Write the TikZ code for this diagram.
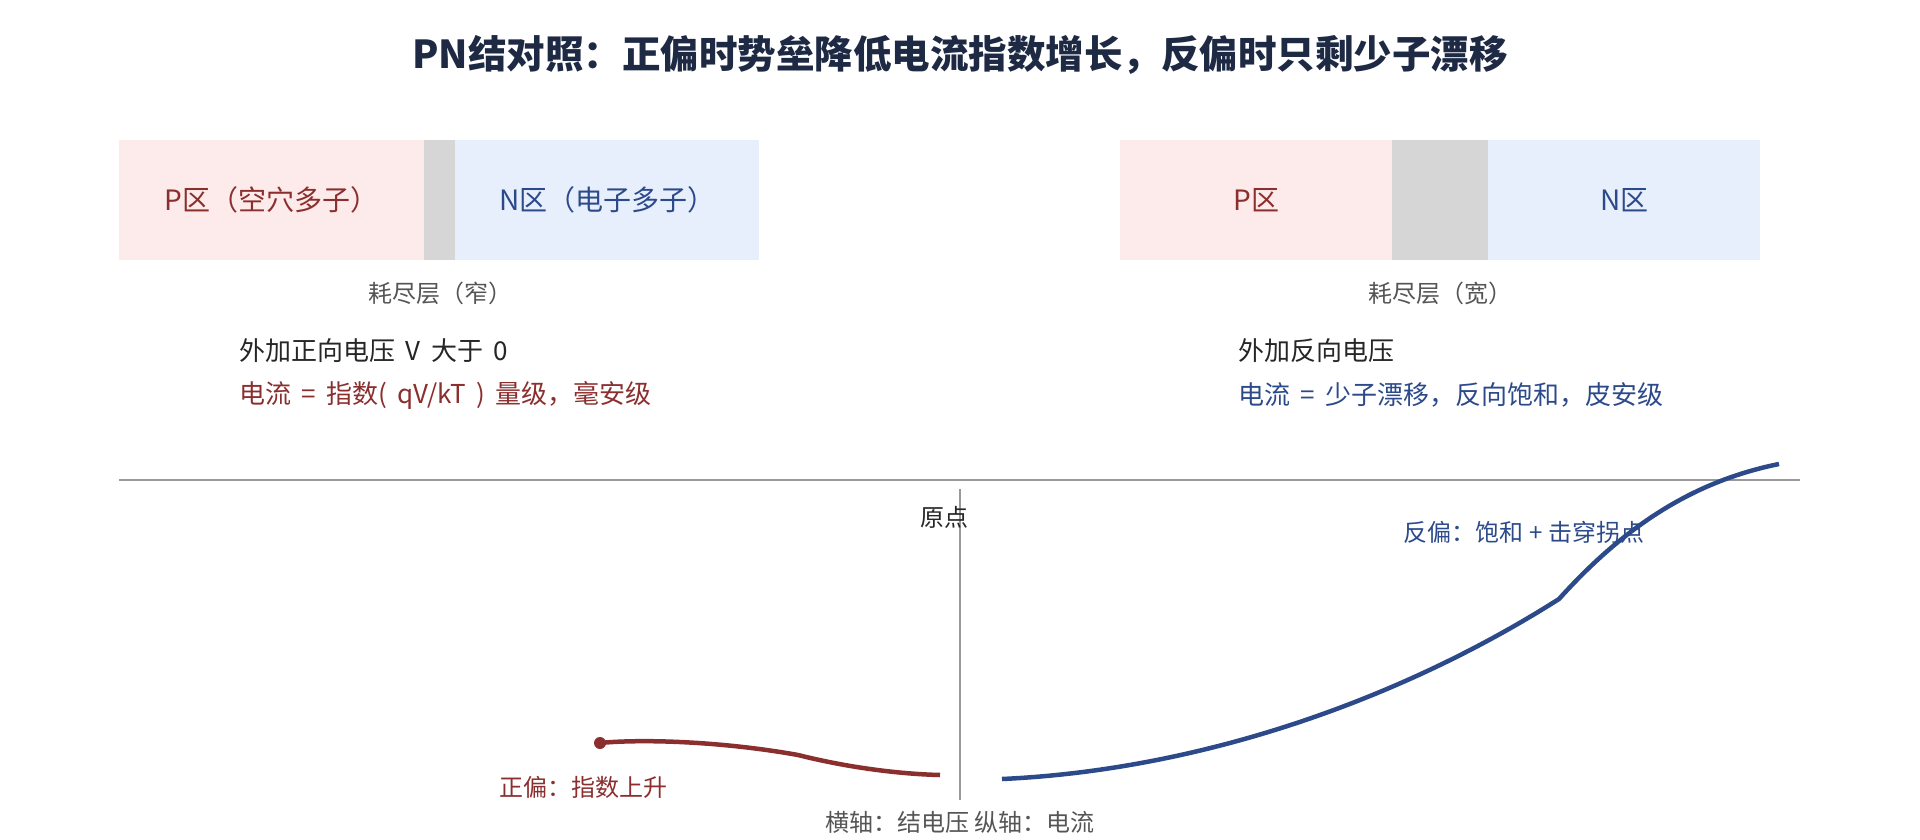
\documentclass[tikz,border=0pt]{standalone}
\usepackage{fontspec}
\setmainfont{Noto Sans CJK SC}
\definecolor{pred}{HTML}{8B2E2E}
\definecolor{nblue}{HTML}{2C4A8A}
\definecolor{pfill}{HTML}{FCEBEA}
\definecolor{nfill}{HTML}{E8EFFC}
\definecolor{deplc}{HTML}{D6D6D6}
\definecolor{titlec}{HTML}{1E2A44}
\definecolor{axisc}{HTML}{999999}
\definecolor{notec}{HTML}{555555}
\newcommand\midfont{\fontsize{26}{30}\selectfont\spaceskip=0.4em\relax}
\begin{document}
\begin{tikzpicture}[x=1pt,y=-1pt,
    region/.style={inner sep=0pt,minimum height=120pt,anchor=north west,
      font=\fontsize{28}{32}\selectfont},
    small/.style={font=\fontsize{24}{28}\selectfont},
    mid/.style={font=\midfont,anchor=west},
    axis/.style={draw=axisc,line width=1.5pt},
    curve/.style={line width=4.5pt}]
  \useasboundingbox (0,0) rectangle (1920,840);
  \node[font=\bfseries\fontsize{38.5}{44}\selectfont,text=titlec] (title) at (960,55)
    {PN结对照：正偏时势垒降低电流指数增长，反偏时只剩少子漂移};
  \node[region,fill=pfill,text=pred,minimum width=305pt] (p1) at (119,140) {P区（空穴多子）};
  \node[region,fill=deplc,minimum width=31pt] (d1) at (424,140) {};
  \node[region,fill=nfill,text=nblue,minimum width=304pt] (n1) at (455,140) {N区（电子多子）};
  \node[region,fill=pfill,text=pred,minimum width=272pt] (p2) at (1120,140) {P区};
  \node[region,fill=deplc,minimum width=96pt] (d2) at (1392,140) {};
  \node[region,fill=nfill,text=nblue,minimum width=272pt] (n2) at (1488,140) {N区};
  \node[small,text=notec] (w1) at (440,293) {耗尽层（窄）};
  \node[small,text=notec] (w2) at (1440,293) {耗尽层（宽）};
  \node[mid,text=black!85] (f1) at (236,351) {外加正向电压 V 大于 0};
  \node[mid,text=pred] (f2) at (236,395) {电流 = 指数( qV/kT ) 量级，毫安级};
  \node[mid,text=black!85] (r1) at (1235,351) {外加反向电压};
  \node[mid,text=nblue] (r2) at (1235,395) {电流 = 少子漂移，反向饱和，皮安级};
  \coordinate (xl) at (119,480);
  \coordinate (xr) at (1800,480);
  \coordinate (yt) at (960,489);
  \coordinate (yb) at (960,800);
  \draw[axis] (xl) -- (xr);
  \draw[axis] (yt) -- (yb);
  \node[small,text=black!85] (o) at (944,517) {原点};
  \node[small,text=notec] (ax) at (960,822) {横轴：结电压 纵轴：电流};
  \coordinate (f0) at (600,743);
  \coordinate (fk) at (798,755);
  \coordinate (fe) at (940,775);
  \draw[curve,pred] (f0) .. controls (640,739) and (720,741) .. (fk)
    .. controls (850,768) and (900,774) .. (fe);
  \fill[pred] (f0) circle (6);
  \node[small,text=pred] (fl) at (583,787) {正偏：指数上升};
  \coordinate (r0) at (1002,779);
  \coordinate (rk) at (1559,599);
  \coordinate (re) at (1779,464);
  \draw[curve,nblue] (r0) .. controls (1200,770) and (1400,700) .. (rk)
    .. controls (1630,520) and (1700,480) .. (re);
  \node[small,text=nblue] (rl) at (1524,532) {反偏：饱和 + 击穿拐点};
\end{tikzpicture}
\end{document}
